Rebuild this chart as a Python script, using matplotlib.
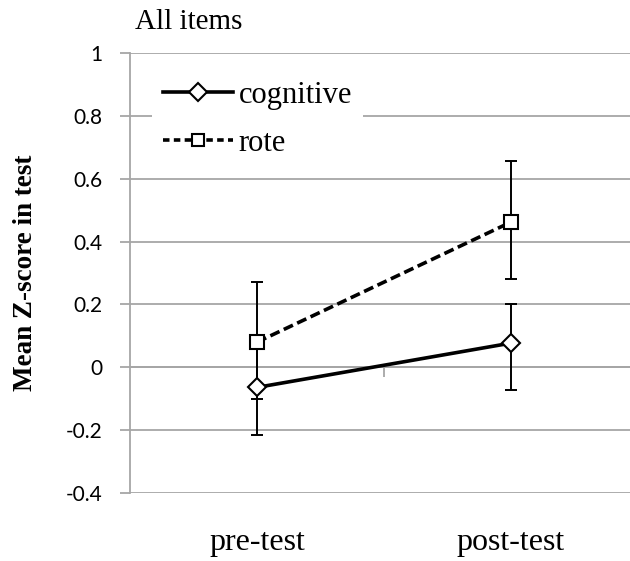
import matplotlib
matplotlib.use("Agg")
import matplotlib.pyplot as plt
from matplotlib.lines import Line2D
from matplotlib.transforms import blended_transform_factory

# Data
phases = ["pre-test", "post-test"]
cognitive_mean = [-0.064, 0.077]
cognitive_err_low = [0.150, 0.149]
cognitive_err_high = [0.150, 0.124]
rote_mean = [0.080, 0.462]
rote_err_low = [0.182, 0.181]
rote_err_high = [0.191, 0.194]
yticks = [-0.4, -0.2, 0, 0.2, 0.4, 0.6, 0.8, 1]
ytick_labels = ["-0.4", "-0.2", "0", "0.2", "0.4", "0.6", "0.8", "1"]

grid_col = "#a6a6a6"
serif = "Liberation Serif"
W, H = 630, 561

fig = plt.figure(figsize=(6.3, 5.61), dpi=100)
ax = fig.add_axes([130 / W, 1 - 493 / H, 508 / W, 440 / H])

x = list(range(len(phases)))

# error bars first, lines and markers on top
eb = dict(fmt="none", ecolor="black", elinewidth=1.4, capsize=4.6, capthick=1.4, zorder=3)
ax.errorbar(x, rote_mean, yerr=[rote_err_low, rote_err_high], **eb)
ax.errorbar(x, cognitive_mean, yerr=[cognitive_err_low, cognitive_err_high], **eb)

ax.plot(x, cognitive_mean, color="black", lw=2.6, marker="D", ms=9.5,
        mfc="white", mec="black", mew=1.5, zorder=5)
ax.plot(x, rote_mean, color="black", lw=2.6, ls=(0, (2.8, 1.3)), marker="s", ms=10,
        mfc="white", mec="black", mew=1.5, zorder=5)

ax.set_xlim(-0.5, 1.5)
ax.set_ylim(-0.4, 1)
ax.set_yticks(yticks)
ax.set_yticklabels(ytick_labels, fontfamily="Lato", fontsize=15)
ax.yaxis.grid(True, color=grid_col, lw=1.3)
ax.set_axisbelow(True)
ax.tick_params(axis="y", length=7, width=1.3, color=grid_col, pad=13)

for s in ["top", "right"]:
    ax.spines[s].set_visible(False)
ax.spines["left"].set_color(grid_col)
ax.spines["left"].set_linewidth(1.3)
ax.spines["bottom"].set_position(("data", 0))
ax.spines["bottom"].set_color(grid_col)
ax.spines["bottom"].set_linewidth(1.3)

# category boundary tick on the zero line, labels at the bottom
ax.set_xticks([0.5])
ax.set_xticklabels([""])
ax.tick_params(axis="x", length=7, width=1.3, color=grid_col, direction="out")
trans = blended_transform_factory(ax.transData, ax.transAxes)
for xi, name in zip(x, phases):
    ax.text(xi, (493 - 550) / 440, name, transform=trans, ha="center", va="baseline",
            fontfamily=serif, fontsize=23)

ax.set_ylabel("Mean Z-score in test", fontfamily=serif, fontweight="bold",
              fontsize=19.5, labelpad=20)
fig.text(135 / W, 1 - 29 / H, "All items", fontfamily=serif, fontsize=21,
         ha="left", va="baseline")

handles = [
    Line2D([], [], color="black", lw=2.6, marker="D", ms=9, mfc="white", mec="black", mew=1.5),
    Line2D([], [], color="black", lw=2.6, ls=(0, (1.8, 1.2)), marker="s", ms=8.5,
           mfc="white", mec="black", mew=1.5),
]
ax.legend(handles, ["cognitive", "rote"], loc="upper left",
          bbox_to_anchor=((152 - 130) / 508, (493 - 70) / 440), borderaxespad=0,
          frameon=True, fancybox=False, edgecolor="none", facecolor="white", framealpha=1,
          prop={"family": serif, "size": 22}, handlelength=2.29,
          handletextpad=0.18, labelspacing=0.62, borderpad=0.36)

fig.savefig("out.png", dpi=100)
